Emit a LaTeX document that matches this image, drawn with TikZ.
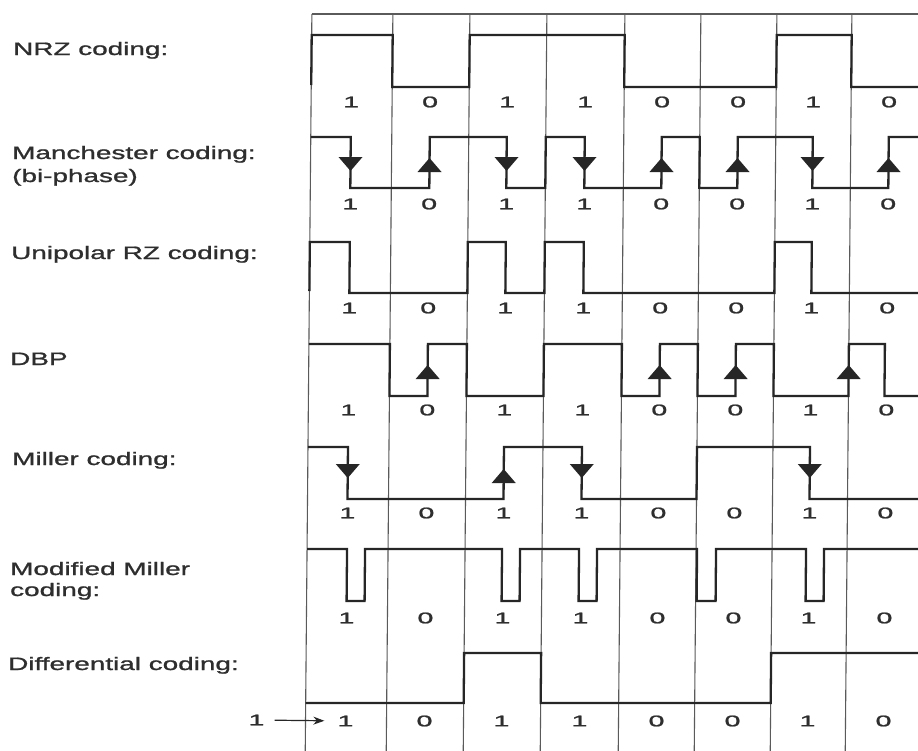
\documentclass[tikz,border=0pt]{standalone}
\usepackage{fontspec}
\usetikzlibrary{arrows.meta}
\newfontfamily\labfont[FakeStretch=1.55,FakeBold=1.2]{Liberation Sans}
\newfontfamily\digfont[FakeStretch=1.85,FakeBold=1.2]{Liberation Sans}
\definecolor{sigc}{HTML}{262626}
\definecolor{gridc}{HTML}{5A5A5A}
\definecolor{txtc}{HTML}{2E2E2E}
\begin{document}
\begin{tikzpicture}[x=1pt,y=-1pt,
  sig/.style={draw=sigc,line width=2.3pt,line join=miter},
  gridl/.style={draw=gridc,line width=1.1pt},
  rowlab/.style={anchor=base west,inner sep=0pt,text=txtc,font=\labfont\fontsize{18}{22}\selectfont},
  bitlab/.style={anchor=center,inner sep=2pt,text=txtc,font=\digfont\fontsize{15.5}{18}\selectfont},
  pics/dnarrow/.style={code={\fill[sigc] (-12,-7) -- (12,-7) -- (0,7) -- cycle;}},
  pics/uparrow/.style={code={\fill[sigc] (-12,7) -- (12,7) -- (0,-7) -- cycle;}},
  arr/.style={draw=sigc,line width=1.2pt,-{Stealth[length=11pt,width=8pt]}}
]
\clip (0,0) rectangle (918,750);
\fill[white] (0,0) rectangle (918,750);
% row labels
\node[rowlab] (l1) at (13,55) {NRZ coding:};
\node[rowlab] (l2a) at (12,159) {Manchester coding:};
\node[rowlab] (l2b) at (12,182) {(bi-phase)};
\node[rowlab] (l3) at (11,259) {Unipolar RZ coding:};
\node[rowlab] (l4) at (10,365) {DBP};
\node[rowlab] (l5) at (12,465) {Miller coding:};
\node[rowlab] (l6a) at (10,575) {Modified Miller};
\node[rowlab] (l6b) at (10,596) {coding:};
\node[rowlab] (l7) at (8,670) {Differential coding:};
\begin{scope}[xslant=0.009]
% grid
\draw[gridl] (312,14) -- (940,14);
\foreach \x in {312,393,470,547,625,701,777,852}
  \draw[gridl] (\x,14) -- (\x,770);
% bit labels
\foreach \r/\y in {1/102,2/204,3/308,4/410,5/513,6/618,7/721}
  \foreach \i/\x/\b in {1/352/1,2/431/0,3/508/1,4/586/1,5/663/0,6/739/0,7/814/1,8/890/0}
    \node[bitlab] (b\r-\i) at (\x,\y) {\b};
% NRZ
\draw[sig] (312,85) -- (312,35) -- (393,35) -- (393,87) -- (470,87) -- (470,35) -- (625,35) -- (625,87) -- (777,87) -- (777,35) -- (852,35) -- (852,87) -- (940,87);
% Manchester
\draw[sig] (312,137) -- (352,137) -- (352,188) -- (431,188) -- (431,137) -- (508,137) -- (508,188) -- (547,188) -- (547,137) -- (586,137) -- (586,188) -- (663,188) -- (663,137) -- (701,137) -- (701,188) -- (739,188) -- (739,137) -- (814,137) -- (814,188) -- (890,188) -- (890,137) -- (940,137);
\pic at (352,164) {dnarrow};
\pic at (431,165) {uparrow};
\pic at (508,164) {dnarrow};
\pic at (586,164) {dnarrow};
\pic at (663,165) {uparrow};
\pic at (739,165) {uparrow};
\pic at (814,164) {dnarrow};
\pic at (890,165) {uparrow};
% Unipolar RZ
\draw[sig] (312,291) -- (312,242) -- (352,242) -- (352,293) -- (470,293) -- (470,242) -- (508,242) -- (508,293) -- (547,293) -- (547,242) -- (586,242) -- (586,293) -- (777,293) -- (777,242) -- (814,242) -- (814,293) -- (940,293);
% DBP
\draw[sig] (312,344) -- (393,344) -- (393,396) -- (431,396) -- (431,344) -- (470,344) -- (470,396) -- (547,396) -- (547,344) -- (625,344) -- (625,396) -- (663,396) -- (663,344) -- (701,344) -- (701,396) -- (739,396) -- (739,344) -- (777,344) -- (777,396) -- (852,396) -- (852,344) -- (888,344) -- (888,396) -- (940,396);
\foreach \x in {431,663,739,852} \pic at (\x,372) {uparrow};
% Miller
\draw[sig] (312,447) -- (352,447) -- (352,499) -- (508,499) -- (508,447) -- (586,447) -- (586,499) -- (701,499) -- (701,447) -- (814,447) -- (814,499) -- (940,499);
\pic at (352,471) {dnarrow};
\pic at (508,476) {uparrow};
\pic at (586,471) {dnarrow};
\pic at (814,471) {dnarrow};
% Modified Miller
\draw[sig] (312,549) -- (352,549) -- (352,601) -- (370,601) -- (370,549) -- (507,549) -- (507,601) -- (525,601) -- (525,549) -- (584,549) -- (584,601) -- (602,601) -- (602,549) -- (702,549) -- (702,601) -- (721,601) -- (721,549) -- (811,549) -- (811,601) -- (829,601) -- (829,549) -- (940,549);
% Differential
\draw[sig] (312,703) -- (470,703) -- (470,653) -- (547,653) -- (547,703) -- (777,703) -- (777,653) -- (940,653);
\node[bitlab] (s1) at (263,720) {1};
\draw[arr,shorten <=8pt,shorten >=11pt] (s1) -- (b7-1);
\end{scope}
\end{tikzpicture}
\end{document}
